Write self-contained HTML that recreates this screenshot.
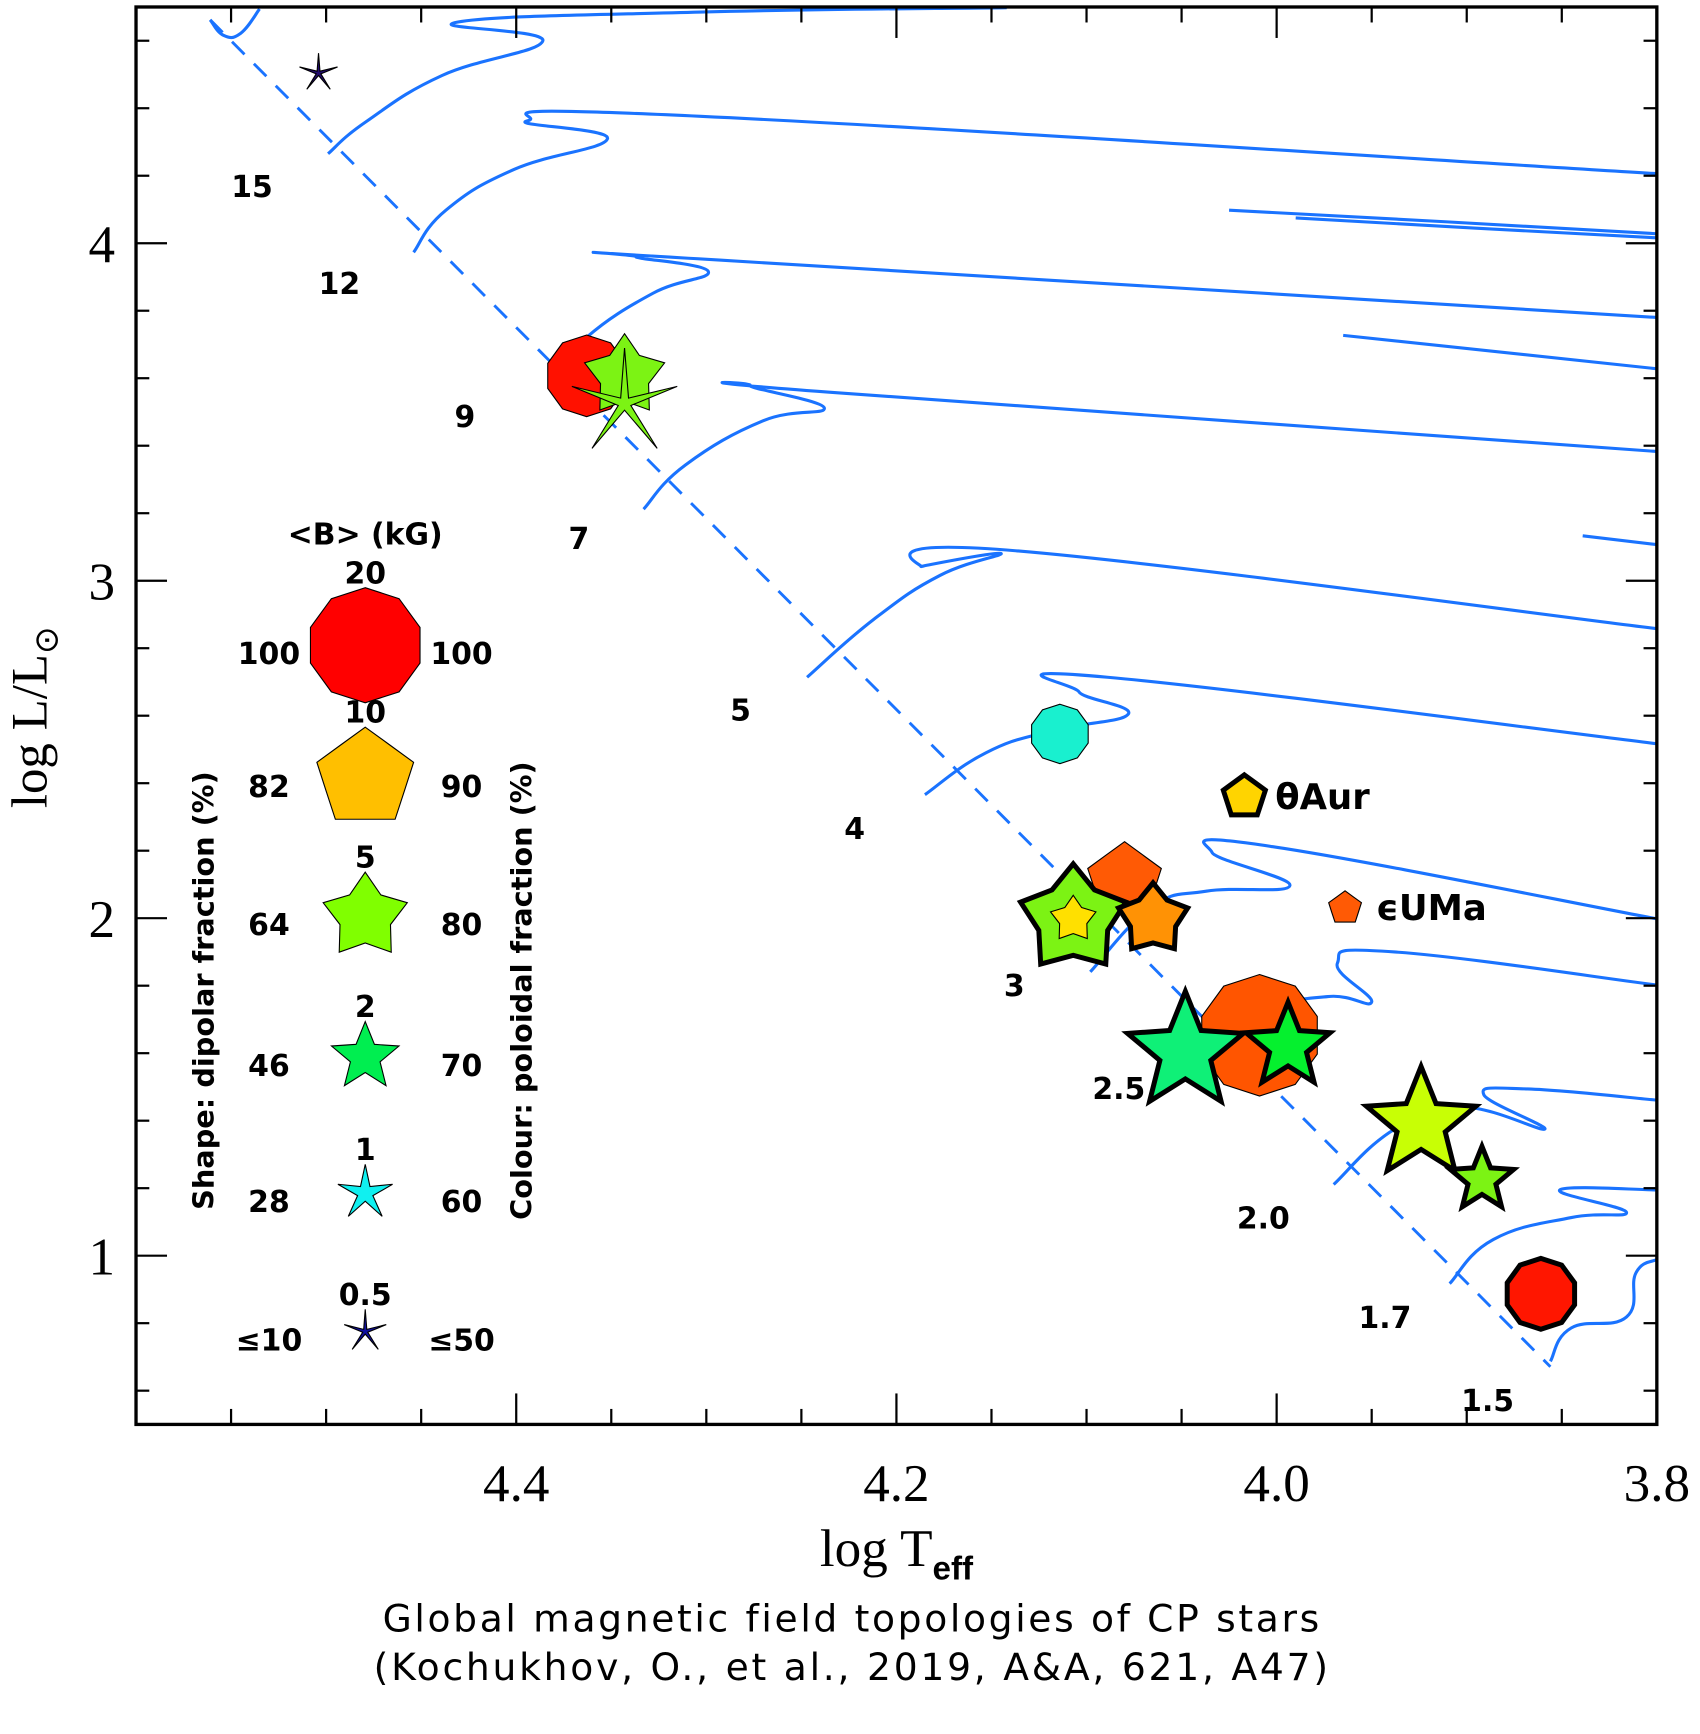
<!DOCTYPE html>
<html><head><meta charset="utf-8"><style>
html,body{margin:0;padding:0;background:#fff;}
svg{display:block;}
.t{font-family:"DejaVu Sans","Liberation Sans",sans-serif;font-weight:bold;fill:#000;}
.tick{font-family:"Liberation Serif",serif;fill:#000;}
</style></head><body>
<svg id="chart" width="1700" height="1734" viewBox="0 0 1536 1566.7" xmlns="http://www.w3.org/2000/svg">
<defs><clipPath id="plotclip"><rect x="122.9" y="6.3" width="1374.1" height="1280.7"/></clipPath></defs>
<g id="tracks" clip-path="url(#plotclip)"></g>
<g id="points"></g>
<g id="axes"></g>
<g id="legend"></g>
</svg>
<script>
// ---------- data ----------
const xDomain = [4.6, 3.8];
const yDomain = [4.7, 0.5];
const xMajorTicks = [4.4, 4.2, 4.0, 3.8];
const xTickLabels = ["4.4", "4.2", "4.0", "3.8"];
const yMajorTicks = [1, 2, 3, 4];
const yTickLabels = ["1", "2", "3", "4"];
const zamsT = [4.561, 3.856];
const zamsL = [4.662, 0.671];
const trackT = [
 [4.561,4.554,4.545,4.535],
 [4.499,4.479,4.439,4.386,4.431,4.303,4.142],
 [4.454,4.437,4.401,4.352,4.394,4.303,3.8],
 [4.025,3.8,3.8,3.99],
 [4.380,4.363,4.328,4.299,4.337,4.293,3.8],
 [3.965,3.8],
 [4.333,4.311,4.270,4.238,4.277,4.229,3.8],
 [3.839,3.8],
 [4.247,4.212,4.177,4.145,4.187,4.136,3.8],
 [4.185,4.153,4.118,4.078,4.104,4.089,3.8],
 [4.098,4.066,4.037,3.993,4.034,4.002,3.8],
 [4.043,4.008,3.973,3.950,3.968,3.938,3.8],
 [3.970,3.938,3.903,3.859,3.891,3.868,3.8],
 [3.909,3.886,3.845,3.816,3.851,3.8],
 [3.856,3.845,3.816,3.811,3.8]
];
const trackL = [
 [4.662,4.616,4.622,4.694],
 [4.265,4.36,4.497,4.6,4.655,4.685,4.698],
 [3.973,4.098,4.219,4.31,4.363,4.376,4.206],
 [4.098,4.028,4.016,4.075],
 [3.599,3.721,3.852,3.917,3.960,3.950,3.780],
 [3.727,3.628],
 [3.212,3.343,3.474,3.513,3.579,3.556,3.383],
 [3.133,3.107],
 [2.714,2.885,3.016,3.081,3.042,3.088,2.858],
 [2.366,2.490,2.556,2.605,2.671,2.714,2.517],
 [1.841,2.031,2.080,2.097,2.195,2.212,1.998],
 [1.565,1.719,1.768,1.752,1.867,1.900,1.802],
 [1.211,1.375,1.441,1.375,1.477,1.494,1.461],
 [0.917,1.048,1.113,1.129,1.195,1.195],
 [0.687,0.786,0.818,0.949,0.989]
];
const massLabels = ["15","12","9","7","5","4","3","2.5","2.0","1.7","1.5"];
const massT = [4.539,4.493,4.427,4.367,4.282,4.222,4.138,4.083,4.007,3.943,3.889];
const massL = [4.137,3.849,3.455,3.094,2.586,2.235,1.769,1.464,1.081,0.786,0.540];
// CP stars
const starT = [4.504,4.363,4.343,4.343,4.114,4.017,3.964,4.080,4.107,4.107,4.065,4.009,4.048,3.994,3.924,3.892,3.861];
const starL = [4.504,3.607,3.607,3.525,2.546,2.359,2.030,2.112,1.997,1.997,1.997,1.653,1.603,1.620,1.390,1.225,0.887];
const starB = [0.4,3.5,4,16,1.1,0.5,0.3,2.8,15.9,0.6,2.2,28,28,5,20,1.6,2];
const starDip = [10,100,64,10,100,82,82,82,70,64,70,100,46,46,46,46,100];
const starColor = ["#220c6e","#ff1100","#7cf314","#7cf314","#19f0cf","#ffd400","#ff5a05","#ff5a05","#7cf314","#ffe000","#ff9205","#ff5500","#0ff077","#05f02e","#c8ff05","#7cf314","#ff1600"];
const starThick = [0,0,0,0,0,1,0,0,1,0,1,0,1,1,1,1,1];
const starNames = ["","","","","","θAur","ϵUMa","","","","","","","","","",""];
// legend
const legendB = [20,10,5,2,1,0.5];
const legendBLabels = ["20","10","5","2","1","0.5"];
const legendDip = [100,82,64,46,28,10];
const legendDipLabels = ["100","82","64","46","28","≤10"];
const legendPolLabels = ["100","90","80","70","60","≤50"];
const legendColors = ["#ff0000","#ffbf00","#80ff00","#00ee50","#10f0f0","#1010a0"];

// ---------- scales ----------
const X0=122.9, X1=1497, Y0=6.3, Y1=1287;
function xs(t){return X0+(t-xDomain[0])/(xDomain[1]-xDomain[0])*(X1-X0);}
function ys(l){return Y0+(l-yDomain[0])/(yDomain[1]-yDomain[0])*(Y1-Y0);}
function rOfB(b){return 20+32*Math.log10(b/0.5)/Math.log10(40);}
function innerOfDip(d){
  if(d>=100) return 1;
  if(d>=82) return 0.809;
  return 0.12+(d-10)*0.00889;
}
const NS="http://www.w3.org/2000/svg";
function mk(tag,attrs,parent){const e=document.createElementNS(NS,tag);for(const k in attrs)e.setAttribute(k,attrs[k]);parent.appendChild(e);return e;}
function starPts(cx,cy,r,ratio){
  const p=[];for(let i=0;i<10;i++){const a=-Math.PI/2+i*Math.PI/5;const rr=i%2?r*ratio:r;p.push((cx+rr*Math.cos(a)).toFixed(1)+","+(cy+rr*Math.sin(a)).toFixed(1));}
  return p.join(" ");
}
function smoothPath(P){
  if(P.length<3) return "M"+P.map(p=>p.join(",")).join(" L");
  let d="M"+P[0][0].toFixed(1)+","+P[0][1].toFixed(1);
  for(let i=0;i<P.length-1;i++){
    const p0=P[Math.max(0,i-1)],p1=P[i],p2=P[i+1],p3=P[Math.min(P.length-1,i+2)];
    const k=0.22;
    const c1=[p1[0]+(p2[0]-p0[0])*k,p1[1]+(p2[1]-p0[1])*k];
    const c2=[p2[0]-(p3[0]-p1[0])*k,p2[1]-(p3[1]-p1[1])*k];
    d+=" C"+c1[0].toFixed(1)+","+c1[1].toFixed(1)+" "+c2[0].toFixed(1)+","+c2[1].toFixed(1)+" "+p2[0].toFixed(1)+","+p2[1].toFixed(1);
  }
  return d;
}

// ---------- tracks ----------
const gT=document.getElementById('tracks');
const z=mk('line',{x1:xs(zamsT[0]),y1:ys(zamsL[0]),x2:xs(zamsT[1]),y2:ys(zamsL[1]),stroke:'#1a73ff','stroke-width':2.6,'stroke-dasharray':'16,12'},gT);


trackT.forEach((arr,i)=>{
  const P=arr.map((t,j)=>[xs(t),ys(trackL[i][j])]);
  const pl=mk('path',{d:smoothPath(P),fill:'none',stroke:'#1a73ff','stroke-width':2.8,'stroke-linejoin':'round'},gT);
  
  
});
const gM=document.getElementById('points');
massLabels.forEach((m,i)=>{
  const t=mk('text',{x:xs(massT[i]),y:ys(massL[i]),'text-anchor':'middle','font-size':27,class:'t'},gM);
  t.textContent=m;
  
  
});

// ---------- points ----------
const gP=document.getElementById('points');
starT.forEach((t,i)=>{
  const cx=xs(t), cy=ys(starL[i]);
  const p=mk('polygon',{points:starPts(cx,cy,rOfB(starB[i]),innerOfDip(starDip[i])),fill:starColor[i],stroke:'#000','stroke-width':starThick[i]?4.5:1,'stroke-linejoin':'miter'},gP);
  
  
  if(starNames[i]){
    const tx=mk('text',{x:cx+28,y:cy+11,'font-size':32,class:'t'},gP);
    tx.textContent=starNames[i];
    
    
  }
});

// ---------- axes ----------
const gA=document.getElementById('axes');
const fr=mk('rect',{x:X0,y:Y0,width:X1-X0,height:Y1-Y0,fill:'none',stroke:'#000','stroke-width':3},gA);


for(let k=0;k<=16;k++){
  const t=4.6-k*0.05; const x=xs(t); const major=xMajorTicks.some(v=>Math.abs(v-t)<1e-6);
  const len=major?28:14;
  const a=mk('line',{x1:x,y1:Y1,x2:x,y2:Y1-len,stroke:'#000','stroke-width':2},gA);
  
  
  const b=mk('line',{x1:x,y1:Y0,x2:x,y2:Y0+len,stroke:'#000','stroke-width':2},gA);
  
  
}
xMajorTicks.forEach((v,i)=>{
  const t=mk('text',{x:xs(v),y:1356,'text-anchor':'middle','font-size':48,class:'tick'},gA);
  t.textContent=xTickLabels[i];
  
  
});
for(let k=0;k<=21;k++){
  const l=0.6+k*0.2; if(l>4.7) break; const y=ys(l); const major=yMajorTicks.some(v=>Math.abs(v-l)<1e-6);
  const len=major?28:12;
  const a=mk('line',{x1:X0,y1:y,x2:X0+len,y2:y,stroke:'#000','stroke-width':2},gA);
  
  
  const b=mk('line',{x1:X1,y1:y,x2:X1-len,y2:y,stroke:'#000','stroke-width':2},gA);
  
  
}
yMajorTicks.forEach((v,i)=>{
  const t=mk('text',{x:92,y:ys(v)+17,'text-anchor':'middle','font-size':48,class:'tick'},gA);
  t.textContent=yTickLabels[i];
  
  
});
</script>
<svg style="position:absolute;left:0;top:0" width="1700" height="1734" viewBox="0 0 1536 1566.7" xmlns="http://www.w3.org/2000/svg">
<text x="810" y="1415" text-anchor="middle" font-family="Liberation Serif, serif" font-size="48">log T<tspan font-size="30" font-weight="bold" font-family="Liberation Sans, sans-serif" dy="12">eff</tspan></text>
<text transform="translate(42,648) rotate(-90)" text-anchor="middle" font-family="Liberation Serif, serif" font-size="46">log L/L<tspan font-size="30" dy="10">⊙</tspan></text>
<text x="770" y="1474" text-anchor="middle" font-family="DejaVu Sans, sans-serif" font-size="34" letter-spacing="2.4">Global magnetic field topologies of CP stars</text>
<text x="770" y="1518" text-anchor="middle" font-family="DejaVu Sans, sans-serif" font-size="34" letter-spacing="2.5">(Kochukhov, O., et al., 2019, A&amp;A, 621, A47)</text>
</svg>
<script>
const gL=document.getElementById('legend');
const lt=mk('text',{x:330,y:492,'text-anchor':'middle','font-size':27,class:'t'},gL);
lt.textContent="<B> (kG)";


const legY=[583,703,828,955,1078,1203];
legendB.forEach((b,i)=>{
  const cy=legY[i];
  const p=mk('polygon',{points:starPts(330,cy,rOfB(b),innerOfDip(legendDip[i])),fill:legendColors[i],stroke:'#000','stroke-width':1},gL);
  
  
  const bl=mk('text',{x:330,y:cy-rOfB(b)-4,'text-anchor':'middle','font-size':27,class:'t'},gL);
  bl.textContent=legendBLabels[i];
  
  
  const dl=mk('text',{x:243,y:cy+17,'text-anchor':'middle','font-size':27,class:'t'},gL);
  dl.textContent=legendDipLabels[i];
  
  
  const pl=mk('text',{x:417,y:cy+17,'text-anchor':'middle','font-size':27,class:'t'},gL);
  pl.textContent=legendPolLabels[i];
  
  
});
const s1=mk('text',{transform:'translate(193,895) rotate(-90)','text-anchor':'middle','font-size':26,class:'t'},gL);
s1.textContent="Shape: dipolar fraction (%)";


const s2=mk('text',{transform:'translate(480,895) rotate(-90)','text-anchor':'middle','font-size':26,class:'t'},gL);
s2.textContent="Colour: poloidal fraction (%)";


</script>
</body></html>
